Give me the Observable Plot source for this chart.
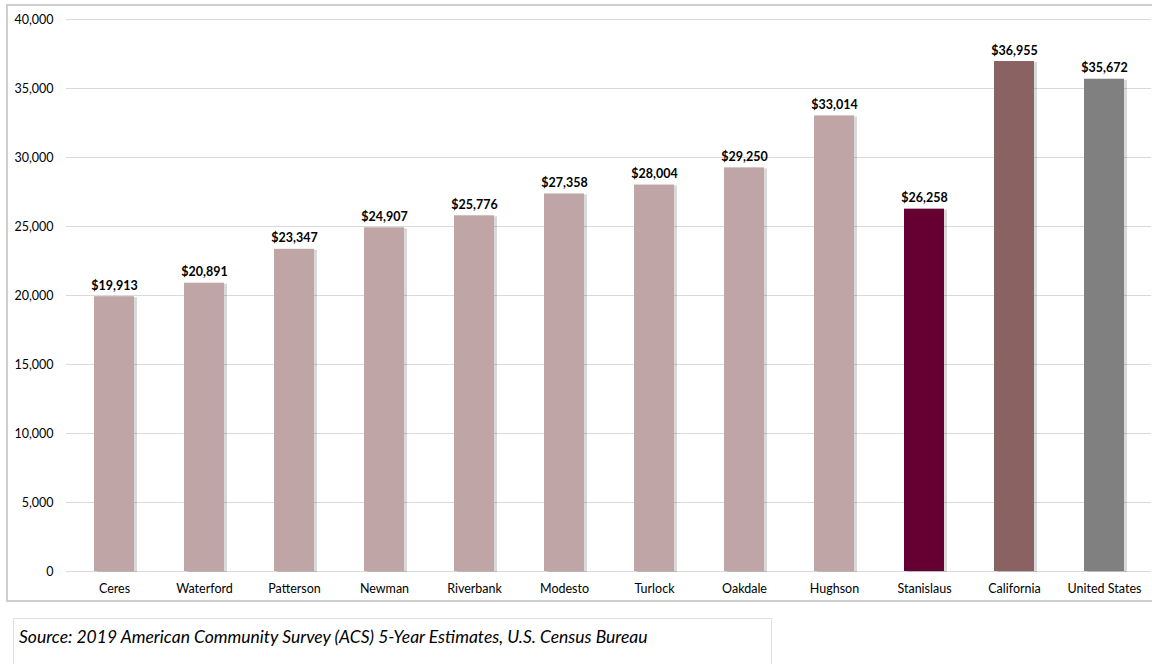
<!DOCTYPE html>
<html>
<head>
<meta charset="utf-8">
<script src="https://cdn.jsdelivr.net/npm/d3@7"></script>
<script src="https://cdn.jsdelivr.net/npm/@observablehq/plot@0.6"></script>
<style>
  html, body { margin: 0; padding: 0; background: #fff; width: 1152px; height: 664px; overflow: hidden; }
  #frame { position: absolute; left: 6px; top: 4px; width: 1160px; height: 598px; border: 2px solid #cfcfcf; box-sizing: border-box; }
  #chart { position: absolute; left: 0; top: 0; }
  #source { position: absolute; left: 13px; top: 618px; width: 759px; height: 60px; border: 1px solid #e0e0e0; box-sizing: border-box;
            font-family: Lato, "Open Sans", sans-serif; font-style: italic; font-size: 17.5px; color: #000; padding: 7px 0 0 5px; }
</style>
</head>
<body>
<div id="frame"></div>
<div id="chart"></div>
<div id="source">Source: 2019 American Community Survey (ACS) 5-Year Estimates, U.S. Census Bureau</div>
<script>
const places = ["Ceres", "Waterford", "Patterson", "Newman", "Riverbank", "Modesto", "Turlock", "Oakdale", "Hughson", "Stanislaus", "California", "United States"];
const incomes = [19913, 20891, 23347, 24907, 25776, 27358, 28004, 29250, 33014, 26258, 36955, 35672];
const colors = ["#bfa5a5", "#bfa5a5", "#bfa5a5", "#bfa5a5", "#bfa5a5", "#bfa5a5", "#bfa5a5", "#bfa5a5", "#bfa5a5", "#660033", "#8b6262", "#808080"];
const yTicks = [0, 5000, 10000, 15000, 20000, 25000, 30000, 35000, 40000];

const data = places.map((p, i) => ({place: p, value: incomes[i], color: colors[i]}));

const chart = Plot.plot({
  width: 1152,
  height: 604,
  marginLeft: 66,
  marginRight: 1,
  marginTop: 19,
  marginBottom: 33,
  style: {fontFamily: "Lato, 'Open Sans', sans-serif", fontSize: "12.5px", color: "#000", background: "transparent"},
  x: {domain: places, label: null, paddingInner: 0.56, paddingOuter: 0.28, tickSize: 0, tickPadding: 13},
  y: {domain: [0, 40000], ticks: yTicks, label: null, tickSize: 0, tickPadding: 13, tickFormat: d3.format(",")},
  marks: [
    Plot.gridY(yTicks, {stroke: "#d9d9d9", strokeOpacity: 1, strokeWidth: 1}),
    Plot.barY(data, {x: "place", y: "value", fill: "#000", fillOpacity: 0.15, dx: 3, dy: 1}),
    Plot.barY(data, {x: "place", y: "value", fill: "color"}),
    Plot.text(data, {x: "place", y: "value", text: d => "$" + d3.format(",")(d.value), dy: -11, fontWeight: "bold", fontSize: 12.5, fill: "#000"})
  ]
});
document.getElementById("chart").appendChild(chart);
</script>
</body>
</html>
